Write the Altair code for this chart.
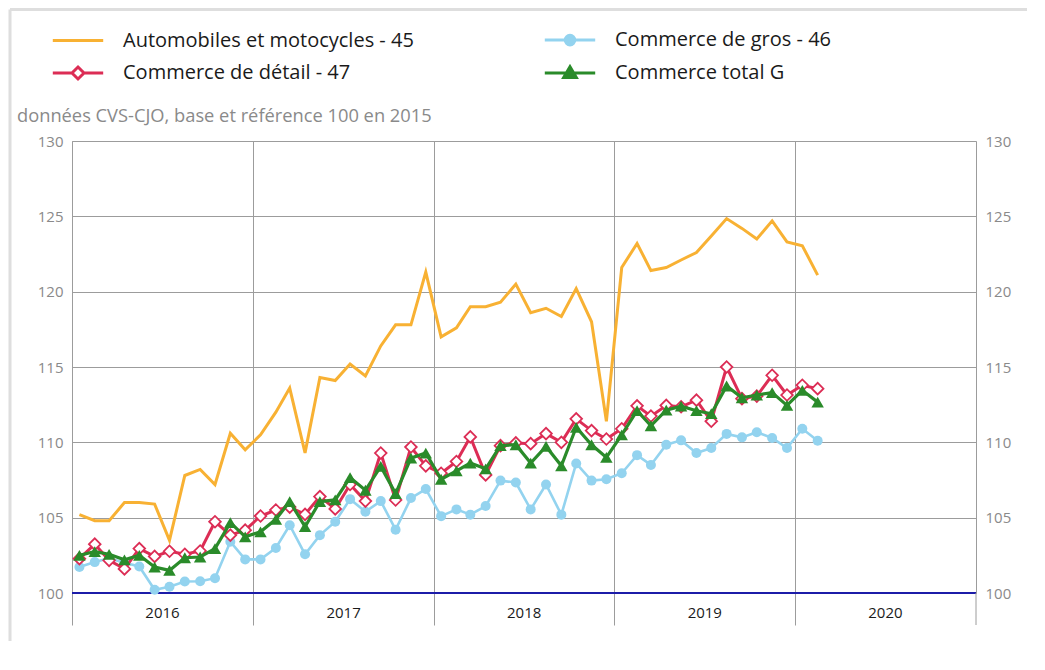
import altair as alt
import pandas as pd

# ---------------- data ----------------
series_names = [
    "Automobiles et motocycles - 45",
    "Commerce de gros - 46",
    "Commerce de détail - 47",
    "Commerce total G",
]
series_colors = ["#F8B133", "#93D3EF", "#DC2D55", "#2A8B2A"]

start_month = "2016-01-16"
n_months = 50

auto = [105.2, 104.8, 104.8, 106.0, 106.0, 105.9, 103.5, 107.8, 108.2, 107.2,
        110.6, 109.5, 110.5, 112.0, 113.6, 109.3, 114.3, 114.1, 115.2, 114.4,
        116.4, 117.8, 117.8, 121.3, 117.0, 117.6, 119.0, 119.0, 119.3, 120.5,
        118.6, 118.9, 118.35, 120.2, 118.0, 111.4, 121.6, 123.2, 121.4, 121.6,
        122.1, 122.6, 123.7, 124.85, 124.2, 123.5, 124.7, 123.3, 123.05, 121.1]
gros = [101.72, 102.05, 102.3, 102.0, 101.76, 100.22, 100.42, 100.76, 100.78, 100.98,
        103.4, 102.23, 102.23, 102.99, 104.5, 102.57, 103.84, 104.73, 106.23, 105.4,
        106.1, 104.2, 106.3, 106.9, 105.1, 105.55, 105.2, 105.77, 107.46, 107.33,
        105.55, 107.2, 105.2, 108.6, 107.46, 107.55, 107.95, 109.15, 108.5, 109.84,
        110.13, 109.29, 109.62, 110.56, 110.33, 110.67, 110.29, 109.62, 110.9, 110.11]
detail = [102.28, 103.24, 102.17, 101.6, 102.95, 102.43, 102.77, 102.57, 102.79, 104.73,
          103.84, 104.17, 105.11, 105.51, 105.7, 105.22, 106.4, 105.58, 107.2, 106.1,
          109.29, 106.17, 109.69, 108.44, 107.95, 108.73, 110.36, 107.84, 109.78, 109.96,
          109.91, 110.58, 110.0, 111.56, 110.78, 110.22, 110.9, 112.42, 111.74, 112.45,
          112.36, 112.8, 111.4, 115.0, 112.9, 113.07, 114.45, 113.14, 113.79, 113.56]
total = [102.5, 102.75, 102.57, 102.2, 102.5, 101.72, 101.5, 102.34, 102.39, 102.95,
         104.67, 103.73, 104.06, 104.89, 106.07, 104.4, 106.07, 106.18, 107.66, 106.82,
         108.4, 106.6, 108.95, 109.29, 107.55, 108.1, 108.62, 108.24, 109.78, 109.84,
         108.62, 109.73, 108.44, 111.0, 109.84, 109.0, 110.5, 112.1, 111.1, 112.14,
         112.4, 112.1, 111.9, 113.74, 112.96, 113.14, 113.3, 112.45, 113.45, 112.67]

years = [2016, 2017, 2018, 2019, 2020]
end_year = 2021
y_ticks = [100, 105, 110, 115, 120, 125, 130]
subtitle = "données CVS-CJO, base et référence 100 en 2015"

# ---------------- table ----------------
months = pd.date_range(start_month, periods=n_months, freq=pd.DateOffset(months=1))
rows = []
for name, vals in zip(series_names, [auto, gros, detail, total]):
    for d, v in zip(months, vals):
        rows.append({"date": d, "value": v, "series": name})
df = pd.DataFrame(rows)

GRID = "#9c9c9c"
LABEL_GREY = "#8a8a8a"
FONT = "Open Sans"

x_scale = alt.Scale(domain=[alt.DateTime(year=years[0], month=1, date=1),
                            alt.DateTime(year=end_year, month=1, date=1)])
x_enc = alt.X(
    "date:T",
    scale=x_scale,
    axis=alt.Axis(
        values=[alt.DateTime(year=y, month=1, date=1) for y in years],
        format="%Y",
        labelOffset=90,
        labelFlush=False,
        labelOverlap=False,
        labelAngle=0,
        tickSize=32,
        tickColor=GRID,
        grid=True,
        gridColor=GRID,
        domain=False,
        labelPadding=-20,
        labelFontSize=15,
        labelFont=FONT,
        labelColor="#1a1a1a",
        title=None,
    ),
)
y_scale = alt.Scale(domain=[100, 130], nice=False)
y_enc = alt.Y(
    "value:Q",
    scale=y_scale,
    axis=alt.Axis(values=y_ticks, grid=True, gridColor=GRID, ticks=False,
                  domain=True, domainColor=GRID, labelPadding=9,
                  labelFontSize=15, labelFont=FONT, labelColor=LABEL_GREY, title=None),
)

base = alt.Chart(df).encode(x=x_enc, y=y_enc)


def only(name):
    return alt.datum.series == name


orange_line = base.transform_filter(only(series_names[0])).mark_line(
    color=series_colors[0], strokeWidth=3)
blue_line = base.transform_filter(only(series_names[1])).mark_line(
    color=series_colors[1], strokeWidth=2.6)
blue_pts = base.transform_filter(only(series_names[1])).mark_circle(
    color=series_colors[1], size=100, opacity=1)
red_line = base.transform_filter(only(series_names[2])).mark_line(
    color=series_colors[2], strokeWidth=3)
red_pts = base.transform_filter(only(series_names[2])).mark_point(
    shape="diamond", filled=True, fill="white", stroke=series_colors[2],
    strokeWidth=1.8, size=135, opacity=1)
green_line = base.transform_filter(only(series_names[3])).mark_line(
    color=series_colors[3], strokeWidth=3.2)
green_pts = base.transform_filter(only(series_names[3])).mark_point(
    shape="triangle-up", filled=True, color=series_colors[3], size=155, opacity=1)

# right-edge tick extension (end of the time axis)
one = pd.DataFrame({"v": [100], "t": [subtitle]})
end_tick = alt.Chart(one).mark_rule(color=GRID, strokeWidth=1).encode(
    x=alt.X(datum=alt.DateTime(year=end_year, month=1, date=1), type="temporal", scale=x_scale),
    y=alt.value(452), y2=alt.value(484))

# legend (symbols = line + marker)
leg_paths = [
    "M-4.2,0L4.2,0",
    "M-4.2,0L4.2,0M0.8,0A0.8,0.8,0,1,1,-0.8,0A0.8,0.8,0,1,1,0.8,0Z",
    "M-4.2,0L-1,0M1,0L4.2,0M0,-1L1,0L0,1L-1,0Z",
    "M-4.2,0L4.2,0M0,-1.05L1.05,0.75L-1.05,0.75Z",
]
leg_fills = [series_colors[0], series_colors[1], "white", series_colors[3]]
legend = alt.Legend(
    orient="none", legendX=-4, legendY=-111, columns=2, direction="horizontal",
    title=None,
    labelFontSize=20, labelFont=FONT, labelColor="#1a1a1a",
    symbolSize=144, symbolStrokeWidth=3, symbolOpacity=1,
    labelOffset=35, columnPadding=124, rowPadding=9, labelLimit=600,
)
legend_layer = alt.Chart(df).transform_filter("false").mark_point(
    filled=True, size=144, opacity=1).encode(
    shape=alt.Shape("series:N", scale=alt.Scale(domain=series_names, range=leg_paths), legend=legend),
    fill=alt.Fill("series:N", scale=alt.Scale(domain=series_names, range=leg_fills), legend=legend),
    stroke=alt.Stroke("series:N", scale=alt.Scale(domain=series_names, range=series_colors), legend=legend),
)

data_layers = alt.layer(end_tick, orange_line, blue_line, blue_pts, red_line, red_pts,
                        green_line, green_pts, legend_layer)

# base line at 100 with right-hand axis
base_rule = alt.Chart(one).mark_rule(color="#1c1ca8", strokeWidth=1.8).encode(
    y=alt.Y("v:Q", scale=y_scale,
            axis=alt.Axis(orient="right", values=y_ticks, grid=False, ticks=False,
                          domain=True, domainColor=GRID, labelPadding=9,
                          labelFontSize=15, labelFont=FONT, labelColor=LABEL_GREY,
                          title=None))
)

sub = alt.Chart(one).mark_text(align="left", baseline="alphabetic", fontSize=18.3,
                               font=FONT, color=LABEL_GREY).encode(
    x=alt.value(-55), y=alt.value(-19), text="t:N")

frame_v = alt.Chart(one).mark_rule(color="#dedede", strokeWidth=3).encode(
    x=alt.value(-62), y=alt.value(-131.5), y2=alt.value(500))
frame_h = alt.Chart(one).mark_rule(color="#dedede", strokeWidth=3).encode(
    x=alt.value(-62), x2=alt.value(955), y=alt.value(-131.5))

chart = alt.layer(frame_v, frame_h, sub, base_rule, data_layers).resolve_scale(
    y="independent"
).properties(width=904, height=452, padding=0).configure_view(stroke=None).configure(font=FONT)

chart.save("out.html", embed_options={"renderer": "svg", "actions": False})
